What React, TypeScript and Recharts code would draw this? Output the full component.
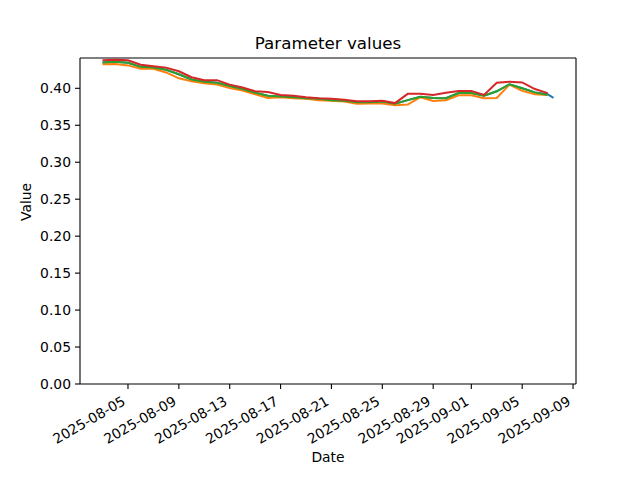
import { LineChart, Line, XAxis, YAxis, ReferenceLine } from "recharts";

const dates = [
  "2025-08-03", "2025-08-04", "2025-08-05", "2025-08-06", "2025-08-07", "2025-08-08",
  "2025-08-09", "2025-08-10", "2025-08-11", "2025-08-12", "2025-08-13", "2025-08-14",
  "2025-08-15", "2025-08-16", "2025-08-17", "2025-08-18", "2025-08-19", "2025-08-20",
  "2025-08-21", "2025-08-22", "2025-08-23", "2025-08-24", "2025-08-25", "2025-08-26",
  "2025-08-27", "2025-08-28", "2025-08-29", "2025-08-30", "2025-08-31", "2025-09-01",
  "2025-09-02", "2025-09-03", "2025-09-04", "2025-09-05", "2025-09-06", "2025-09-07",
];

// blue has one extra, later reading
const blueExtraDate = "2025-09-07T11:00:00Z";
const blueExtraValue = 0.387;

// blue sits under the green line almost everywhere
const blue = [
  0.435, 0.436, 0.4345, 0.429, 0.428, 0.425, 0.419, 0.412, 0.409, 0.4075, 0.403, 0.399,
  0.394, 0.39, 0.389, 0.388, 0.3865, 0.386, 0.384, 0.383, 0.381, 0.381, 0.382, 0.379,
  0.384, 0.3885, 0.387, 0.3865, 0.3935, 0.3935, 0.39, 0.396, 0.4055, 0.4, 0.3945, 0.392,
];
const orange = [
  0.4325, 0.433, 0.431, 0.4265, 0.4265, 0.4215, 0.4135, 0.4095, 0.407, 0.405, 0.4005, 0.397,
  0.392, 0.387, 0.388, 0.3865, 0.386, 0.384, 0.383, 0.382, 0.379, 0.3795, 0.3795, 0.377,
  0.378, 0.388, 0.383, 0.384, 0.3905, 0.3905, 0.3865, 0.387, 0.405, 0.3965, 0.392, 0.391,
];
const green = [
  0.435, 0.436, 0.4345, 0.429, 0.428, 0.425, 0.419, 0.412, 0.409, 0.4075, 0.403, 0.399,
  0.394, 0.39, 0.389, 0.388, 0.3865, 0.386, 0.384, 0.383, 0.381, 0.381, 0.382, 0.379,
  0.384, 0.3885, 0.387, 0.3865, 0.3935, 0.3935, 0.39, 0.396, 0.4055, 0.4, 0.3945, 0.391,
];
const red = [
  0.4378, 0.4385, 0.438, 0.432, 0.43, 0.428, 0.423, 0.415, 0.411, 0.411, 0.405, 0.401,
  0.396, 0.395, 0.391, 0.39, 0.388, 0.3865, 0.386, 0.3845, 0.3825, 0.3825, 0.383, 0.38,
  0.3925, 0.3925, 0.391, 0.394, 0.3965, 0.3965, 0.391, 0.4075, 0.409, 0.408, 0.399, 0.3935,
];

const tickDates = [
  "2025-08-05", "2025-08-09", "2025-08-13", "2025-08-17", "2025-08-21",
  "2025-08-25", "2025-08-29", "2025-09-01", "2025-09-05", "2025-09-09",
];
const yTicks = [0, 0.05, 0.1, 0.15, 0.2, 0.25, 0.3, 0.35, 0.4];
const yTop = 0.441;

const toMs = (d: string) => Date.parse(d.length === 10 ? d + "T00:00:00Z" : d);
const fmt = (ms: number) => new Date(ms).toISOString().slice(0, 10);

const rows: any[] = dates.map((d, i) => ({
  t: toMs(d),
  blue: blue[i],
  orange: orange[i],
  green: green[i],
  red: red[i],
}));
rows.push({ t: toMs(blueExtraDate), blue: blueExtraValue });

const first = rows[0].t;
const last = rows[rows.length - 1].t;
const pad = (last - first) * 0.05;
const xDomain = [first - pad, last + pad];

const FONT = "DejaVu Sans, sans-serif";

const DateTick = (props: any) => {
  const { x, y, payload } = props;
  return (
    <g transform={`translate(${x - 1.5},${y + 13})`}>
      <text
        x={0}
        y={0}
        textAnchor="end"
        transform="rotate(-30)"
        fontSize={13.9}
        fontFamily={FONT}
        fill="#000"
      >
        {fmt(payload.value)}
      </text>
    </g>
  );
};

export default function App() {
  return (
    <div style={{ position: "fixed", left: 0, top: 0, width: 640, height: 480, background: "#fff" }}>
      <LineChart
        width={640}
        height={480}
        data={rows}
        margin={{ top: 58, right: 64, bottom: 0, left: 0 }}
      >
        <text
          x={328}
          y={49}
          textAnchor="middle"
          fontSize={16.7}
          fontFamily={FONT}
          fill="#000"
        >
          Parameter values
        </text>
        <XAxis
          dataKey="t"
          type="number"
          scale="time"
          domain={xDomain}
          ticks={tickDates.map(toMs)}
          tick={<DateTick />}
          tickSize={5}
          tickMargin={2}
          height={96}
          interval={0}
          allowDataOverflow
          axisLine={{ stroke: "#000", strokeWidth: 1.1 }}
          tickLine={{ stroke: "#000", strokeWidth: 1.1 }}
          label={{ value: "Date", position: "insideBottom", offset: 18, fontSize: 13.9, fontFamily: FONT, fill: "#000" }}
        />
        <YAxis
          type="number"
          domain={[0, yTop]}
          ticks={yTicks}
          tickFormatter={(v: number) => v.toFixed(2)}
          width={80}
          tickSize={5}
          tickMargin={4}
          allowDataOverflow
          tick={{ fontSize: 13.9, fontFamily: FONT, fill: "#000" }}
          axisLine={{ stroke: "#000", strokeWidth: 1.1 }}
          tickLine={{ stroke: "#000", strokeWidth: 1.1 }}
          label={{ value: "Value", angle: -90, position: "insideLeft", offset: 26, fontSize: 13.9, fontFamily: FONT, fill: "#000" }}
        />
        <ReferenceLine y={yTop} stroke="#000" strokeWidth={1.1} ifOverflow="visible" />
        <ReferenceLine x={xDomain[1]} stroke="#000" strokeWidth={1.1} ifOverflow="visible" />
        <Line dataKey="blue" stroke="#1f77b4" strokeWidth={2} dot={false} isAnimationActive={false} />
        <Line dataKey="orange" stroke="#ff7f0e" strokeWidth={2} dot={false} isAnimationActive={false} />
        <Line dataKey="green" stroke="#2ca02c" strokeWidth={2} dot={false} isAnimationActive={false} />
        <Line dataKey="red" stroke="#d62728" strokeWidth={2} dot={false} isAnimationActive={false} />
      </LineChart>
    </div>
  );
}
